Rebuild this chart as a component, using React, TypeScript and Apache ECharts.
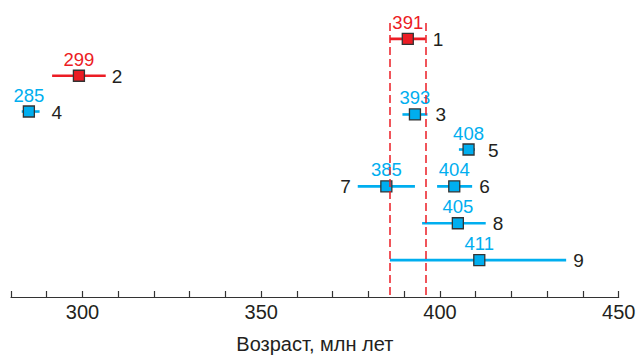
import React, { useEffect, useRef } from "react";
import * as echarts from "echarts";

const ids = ["1", "2", "3", "4", "5", "6", "7", "8", "9"];
const ages = [391, 299, 393, 285, 408, 404, 385, 405, 411];
const lows = [386, 291.5, 389.5, 283, 405.3, 399.2, 377, 395, 386];
const highs = [396, 306.5, 396.5, 288, 409.8, 409, 393, 412.8, 435.3];
const rows = [1, 2, 3.05, 2.97, 4, 5, 5, 6, 7];
const isRed = [true, true, false, false, false, false, false, false, false];
const labelLeft = [false, false, false, false, false, false, true, false, false];
const labelGap = [7, 6, 8, 12, 13, 7, 7, 7, 7];
const refLow = 386;
const refHigh = 396;
const xTicks = [300, 350, 400, 450];
const axisName = "Возраст, млн лет";

const RED = "#ec1c24";
const BLUE = "#00aeef";
const DARK = "#231f20";
const FONT = "Liberation Sans, Arial, sans-serif";

export default function App() {
  const ref = useRef<HTMLDivElement>(null);
  useEffect(() => {
    if (!ref.current) return;
    const chart = echarts.init(ref.current, undefined, { renderer: "svg" });
    const data = ids.map((id, i) => [ages[i], rows[i], lows[i], highs[i], i]);
    const renderItem = (params: any, api: any) => {
      const i = api.value(4);
      const c = api.coord([api.value(0), api.value(1)]);
      const lo = api.coord([api.value(2), api.value(1)]);
      const hi = api.coord([api.value(3), api.value(1)]);
      const col = isRed[i] ? RED : BLUE;
      const half = 5.5;
      const left = labelLeft[i];
      const gap = labelGap[i];
      return {
        type: "group",
        children: [
          {
            type: "line",
            shape: { x1: lo[0], y1: c[1], x2: hi[0], y2: c[1] },
            style: { stroke: col, lineWidth: 2.6 },
          },
          {
            type: "rect",
            shape: { x: c[0] - half, y: c[1] - half, width: half * 2, height: half * 2 },
            style: { fill: col, stroke: "#333", lineWidth: 1.3 },
          },
          {
            type: "text",
            x: c[0],
            y: c[1] - 7,
            style: {
              text: String(ages[i]),
              fill: col,
              font: `18.5px ${FONT}`,
              align: "center",
              verticalAlign: "bottom",
            },
          },
          {
            type: "text",
            x: left ? Math.min(lo[0], c[0] - half) - gap : Math.max(hi[0], c[0] + half) + gap,
            y: c[1] + 0.5,
            style: {
              text: ids[i],
              fill: DARK,
              font: `19px ${FONT}`,
              align: left ? "right" : "left",
              verticalAlign: "middle",
            },
          },
        ],
      };
    };
    chart.setOption({
      animation: false,
      grid: {
        left: 11,
        right: 19.3,
        top: 2,
        bottom: 59,
        containLabel: false,
        outerBoundsMode: "none",
      },
      xAxis: {
        type: "value",
        min: 280,
        max: 450,
        interval: 10,
        position: "bottom",
        axisLine: { show: true, onZero: false, lineStyle: { color: "#333", width: 1.2 } },
        axisTick: { show: true, inside: true, length: 6, lineStyle: { color: "#333", width: 1.2 } },
        splitLine: { show: false },
        axisLabel: {
          color: DARK,
          fontSize: 20,
          fontFamily: FONT,
          margin: 5,
          formatter: (v: number) => (xTicks.includes(v) ? String(v) : ""),
        },
        name: axisName,
        nameLocation: "middle",
        nameGap: 37,
        nameTextStyle: { color: DARK, fontSize: 20, fontFamily: FONT },
      },
      yAxis: {
        type: "value",
        min: 0,
        max: 8,
        inverse: true,
        show: false,
      },
      series: [
        {
          type: "custom",
          renderItem,
          data,
          encode: { x: 0, y: 1 },
          z: 3,
          markLine: {
            silent: true,
            symbol: "none",
            label: { show: false },
            lineStyle: { color: RED, type: [8, 4], width: 1.5 },
            data: [
              [{ coord: [refLow, 0.57] }, { coord: [refLow, 8] }],
              [{ coord: [refHigh, 0.57] }, { coord: [refHigh, 8] }],
            ],
          },
        },
      ],
    });
    return () => chart.dispose();
  }, []);
  return <div ref={ref} style={{ width: 638, height: 356, position: "absolute", left: 0, top: 0 }} />;
}
